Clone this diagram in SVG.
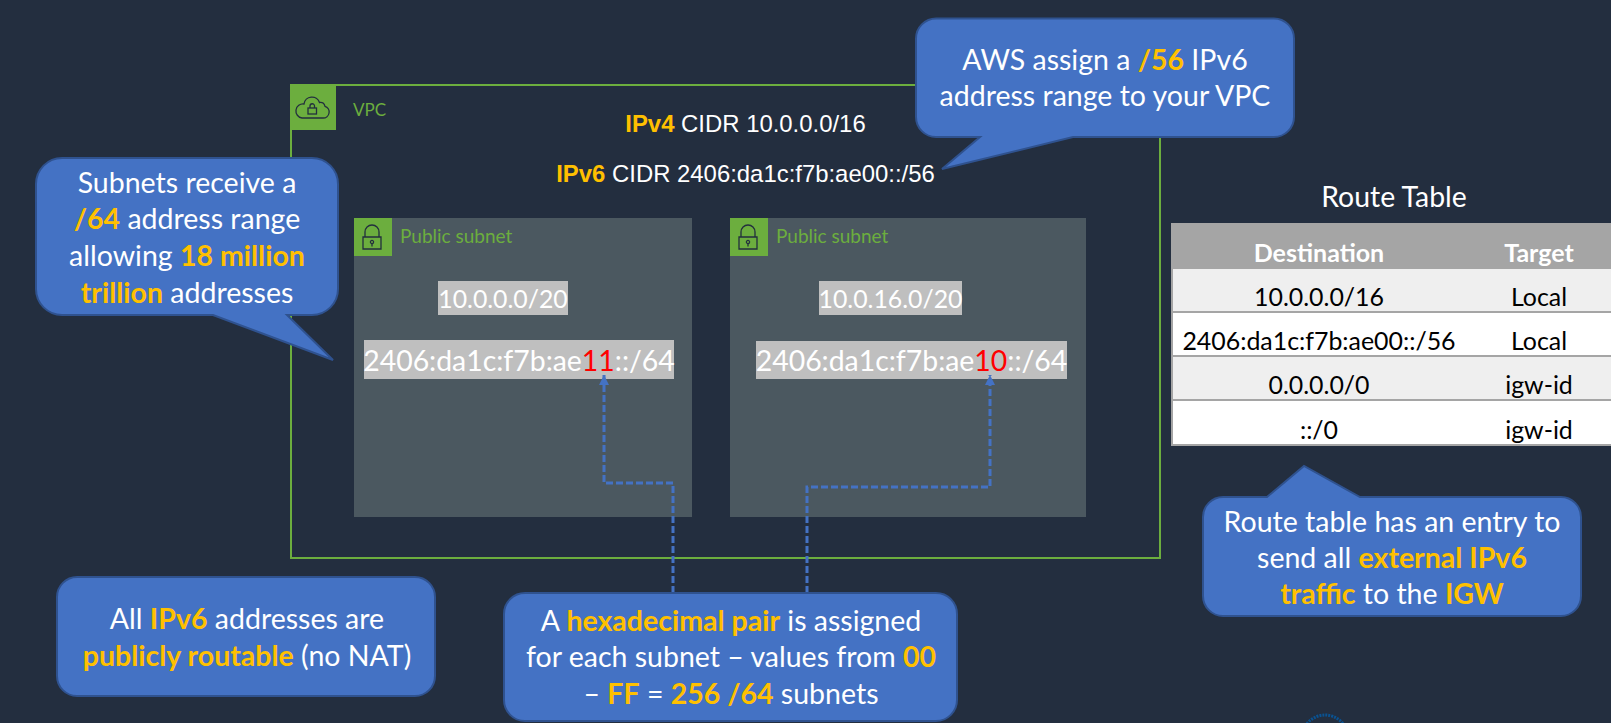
<svg xmlns="http://www.w3.org/2000/svg" width="1611" height="723" viewBox="0 0 1611 723">
<style>
text{font-family:"Lato","Carlito","Liberation Sans",sans-serif;fill:#fff}
.call{fill:#4472c4;stroke:#2f528f;stroke-width:2}
.ct{font-size:28.500px;text-anchor:middle}
.b{font-weight:700;fill:#ffc000}
.ar{font-family:"Liberation Sans",Arial,sans-serif;font-size:23.900px;text-anchor:middle}
.ic{fill:none;stroke:#232f3e;stroke-width:1.300}
.grn{fill:#6cae3e}
.sub{fill:#4b5860}
.adr{fill:#bfbfbf}
.lbl{fill:#6cae3e;font-size:17px}
.psn{fill:#6cae3e;font-size:19px}
.at{font-size:28.400px;text-anchor:middle}
.at2{font-size:24.800px;text-anchor:middle}
.red{fill:#f00}
.tb{font-size:24.900px;text-anchor:middle;fill:#000}
.th{font-size:25px;font-weight:700;text-anchor:middle;fill:#fff}
.ln{stroke:#a5a5a5;stroke-width:2;fill:none}
.conn{fill:none;stroke:#4472c4;stroke-width:3;stroke-dasharray:7 3}
</style>
<defs>
<marker id="arr" markerUnits="userSpaceOnUse" markerWidth="11" markerHeight="11" refX="10" refY="5" orient="auto"><path d="M0 0L10 5L0 10Z" fill="#4472c4"/></marker>
<g id="lock"><path class="ic" d="M-9 -1V11H9V-1ZM-7 -1V-6A7 7 0 0 1 7 -6V-1"/><circle class="ic" cx="0" cy="4" r="1.600"/><path class="ic" d="M0 5.600V8.500"/></g>
</defs>
<rect width="1611" height="723" fill="#232e3f"/>

<g id="vpc">
<rect x="291" y="85" width="869" height="473" fill="none" stroke="#6cae3e" stroke-width="2"/>
<rect class="grn" x="290" y="84" width="46" height="46"/>
<path class="ic" d="M302 118H323A6 6 0 0 0 325 106.300A5 5 0 0 0 319.500 102.500A8 8 0 0 0 304 104A6 6 0 0 0 302 118Z"/>
<rect class="ic" x="308" y="108" width="8.500" height="6"/>
<path class="ic" d="M310 108V106A2.200 2.200 0 0 1 314.500 106V108"/>
<text class="lbl" x="353" y="116">VPC</text>
<text class="ar" x="745.500" y="132"><tspan class="b">IPv4</tspan> CIDR 10.0.0.0/16</text>
<text class="ar" x="745.500" y="182"><tspan class="b">IPv6</tspan> CIDR 2406:da1c:f7b:ae00::/56</text>
</g>

<g id="subnet1">
<rect class="sub" x="354" y="218" width="338" height="299"/>
<rect class="grn" x="354" y="218" width="38" height="38"/>
<use href="#lock" x="372" y="238"/>
<text class="psn" x="400" y="243">Public subnet</text>
<rect class="adr" x="438" y="281" width="130" height="34"/>
<text class="at2" x="503" y="308">10.0.0.0/20</text>
<rect class="adr" x="364" y="340" width="310" height="39"/>
<text class="at" x="519" y="371">2406:da1c:f7b:ae<tspan class="red">11</tspan>::/64</text>
</g>

<g id="subnet2">
<rect class="sub" x="730" y="218" width="356" height="299"/>
<rect class="grn" x="730" y="218" width="38" height="38"/>
<use href="#lock" x="748" y="238"/>
<text class="psn" x="776" y="243">Public subnet</text>
<rect class="adr" x="819" y="281" width="143" height="34"/>
<text class="at2" x="890.500" y="308">10.0.16.0/20</text>
<rect class="adr" x="756" y="341" width="311" height="38"/>
<text class="at" x="911.500" y="371">2406:da1c:f7b:ae<tspan class="red">10</tspan>::/64</text>
</g>

<g id="connectors">
<path class="conn" marker-end="url(#arr)" d="M673 593V483H604V375"/>
<path class="conn" marker-end="url(#arr)" d="M807 593V487H990V375"/>
</g>

<g id="callout-aws">
<path class="call" d="M936 18.500H1274A20 20 0 0 1 1294 38.500V117A20 20 0 0 1 1274 137H1073L942 169L980 137H936A20 20 0 0 1 916 117V38.500A20 20 0 0 1 936 18.500Z"/>
<text class="ct" x="1105" y="70">AWS assign a <tspan class="b">/56</tspan> IPv6</text>
<text class="ct" x="1105" y="106">address range to your VPC</text>
</g>

<g id="callout-subnets">
<path class="call" d="M62 158H312A26 26 0 0 1 338 184V289A26 26 0 0 1 312 315H287L333 360L213 315H62A26 26 0 0 1 36 289V184A26 26 0 0 1 62 158Z"/>
<text class="ct" x="187" y="193">Subnets receive a</text>
<text class="ct" x="187" y="229"><tspan class="b">/64</tspan> address range</text>
<text class="ct" x="187" y="266">allowing <tspan class="b">18 million</tspan></text>
<text class="ct" x="187" y="303"><tspan class="b">trillion</tspan> addresses</text>
</g>

<g id="callout-public">
<rect class="call" x="57" y="577" width="378" height="119" rx="20"/>
<text class="ct" x="247" y="629">All <tspan class="b">IPv6</tspan> addresses are</text>
<text class="ct" x="247" y="666"><tspan class="b">publicly routable</tspan> (no NAT)</text>
</g>

<g id="callout-hex">
<rect class="call" x="504" y="593" width="453" height="128" rx="21"/>
<text class="ct" x="731" y="631">A <tspan class="b">hexadecimal pair</tspan> is assigned</text>
<text class="ct" x="731" y="667">for each subnet – values from <tspan class="b">00</tspan></text>
<text class="ct" x="731" y="704">– <tspan class="b">FF</tspan> = <tspan class="b">256 /64</tspan> subnets</text>
</g>

<g id="route-table">
<text x="1394" y="207" font-size="28.400" text-anchor="middle">Route Table</text>
<rect x="1171" y="223" width="440" height="46" fill="#a5a5a5"/>
<rect x="1172" y="269" width="439" height="43" fill="#efefef"/>
<rect x="1172" y="312" width="439" height="44" fill="#fff"/>
<rect x="1172" y="356" width="439" height="44" fill="#efefef"/>
<rect x="1172" y="400" width="439" height="45" fill="#fff"/>
<path class="ln" d="M1172 223V445M1171 312H1611M1171 356H1611M1171 400H1611M1171 445H1611"/>
<text class="th" x="1319" y="262">Destination</text>
<text class="th" x="1539" y="262">Target</text>
<text class="tb" x="1319" y="306">10.0.0.0/16</text>
<text class="tb" x="1539" y="306">Local</text>
<text class="tb" x="1319" y="350">2406:da1c:f7b:ae00::/56</text>
<text class="tb" x="1539" y="350">Local</text>
<text class="tb" x="1319" y="394">0.0.0.0/0</text>
<text class="tb" x="1539" y="394">igw-id</text>
<text class="tb" x="1319" y="439">::/0</text>
<text class="tb" x="1539" y="439">igw-id</text>
</g>

<g id="callout-route">
<path class="call" d="M1223 497H1267L1304 466L1360 497H1561A20 20 0 0 1 1581 517V596A20 20 0 0 1 1561 616H1223A20 20 0 0 1 1203 596V517A20 20 0 0 1 1223 497Z"/>
<text class="ct" x="1392" y="532">Route table has an entry to</text>
<text class="ct" x="1392" y="568">send all <tspan class="b">external IPv6</tspan></text>
<text class="ct" x="1392" y="604"><tspan class="b">traffic</tspan> to the <tspan class="b">IGW</tspan></text>
</g>

<g id="seal">
<circle cx="1325" cy="738" r="23" fill="none" stroke="#0a5291" stroke-width="3" stroke-dasharray="2 1"/>
</g>
</svg>
